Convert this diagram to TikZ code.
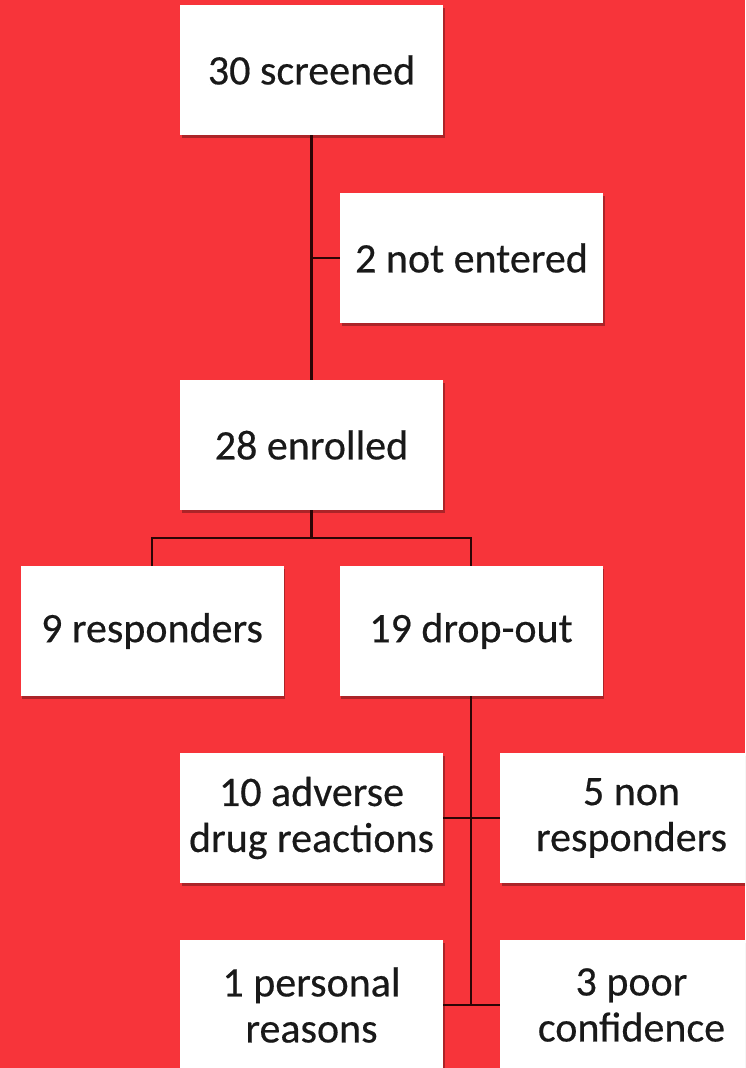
\documentclass[tikz,border=0pt]{standalone}
\usepackage{fontspec}
\setmainfont{Carlito}
\newfontfamily\boxfont{Carlito}[FakeBold=0.4]
\usetikzlibrary{shadows}
\definecolor{bgred}{RGB}{247,52,58}
\definecolor{linedark}{RGB}{45,5,5}
\definecolor{txt}{RGB}{25,25,25}
\tikzset{
  box/.style={fill=white, minimum width=263pt, minimum height=130pt, inner sep=0pt,
    align=center, text=txt, font=\boxfont\fontsize{42}{46}\selectfont,
    drop shadow={shadow xshift=1.5pt, shadow yshift=-2.5pt, opacity=0.3, fill=black}},
  conn/.style={draw=linedark, line width=2.8pt}
}
\begin{document}
\begin{tikzpicture}[x=1pt,y=-1pt]
\useasboundingbox (0,0) rectangle (745,1068);
\fill[bgred] (0,0) rectangle (745,1068);
\clip (0,0) rectangle (745,1068);
\node[box] (scr) at (311.5,70) {30 screened};
\node[box] (notent) at (471.5,258) {2 not entered};
\node[box] (enr) at (311.5,445) {28 enrolled};
\node[box] (resp) at (152,631) {9 responders};
\node[box] (drop) at (471,631) {19 drop-out};
\node[box] (adv) at (311.5,818) {10 adverse\\drug reactions};
\node[box] (nonresp) at (631.5,818) {5 non\\responders};
\node[box] (pers) at (311.5,1005) {1 personal\\reasons};
\node[box] (poor) at (631.5,1005) {3 poor\\confidence};
\coordinate (br) at (311.5,538);
\coordinate (dend) at (471,1005);
\draw[conn] (scr.south) -- (enr.north);
\draw[conn] (scr.south |- notent.west) -- (notent.west);
\draw[conn] (enr.south) -- (br);
\draw[conn] (resp.north) |- (br) -| (drop.north);
\draw[conn] (drop.south) -- (dend);
\draw[conn] (adv.east) -- (nonresp.west);
\draw[conn] (pers.east) -- (poor.west);
\end{tikzpicture}
\end{document}
